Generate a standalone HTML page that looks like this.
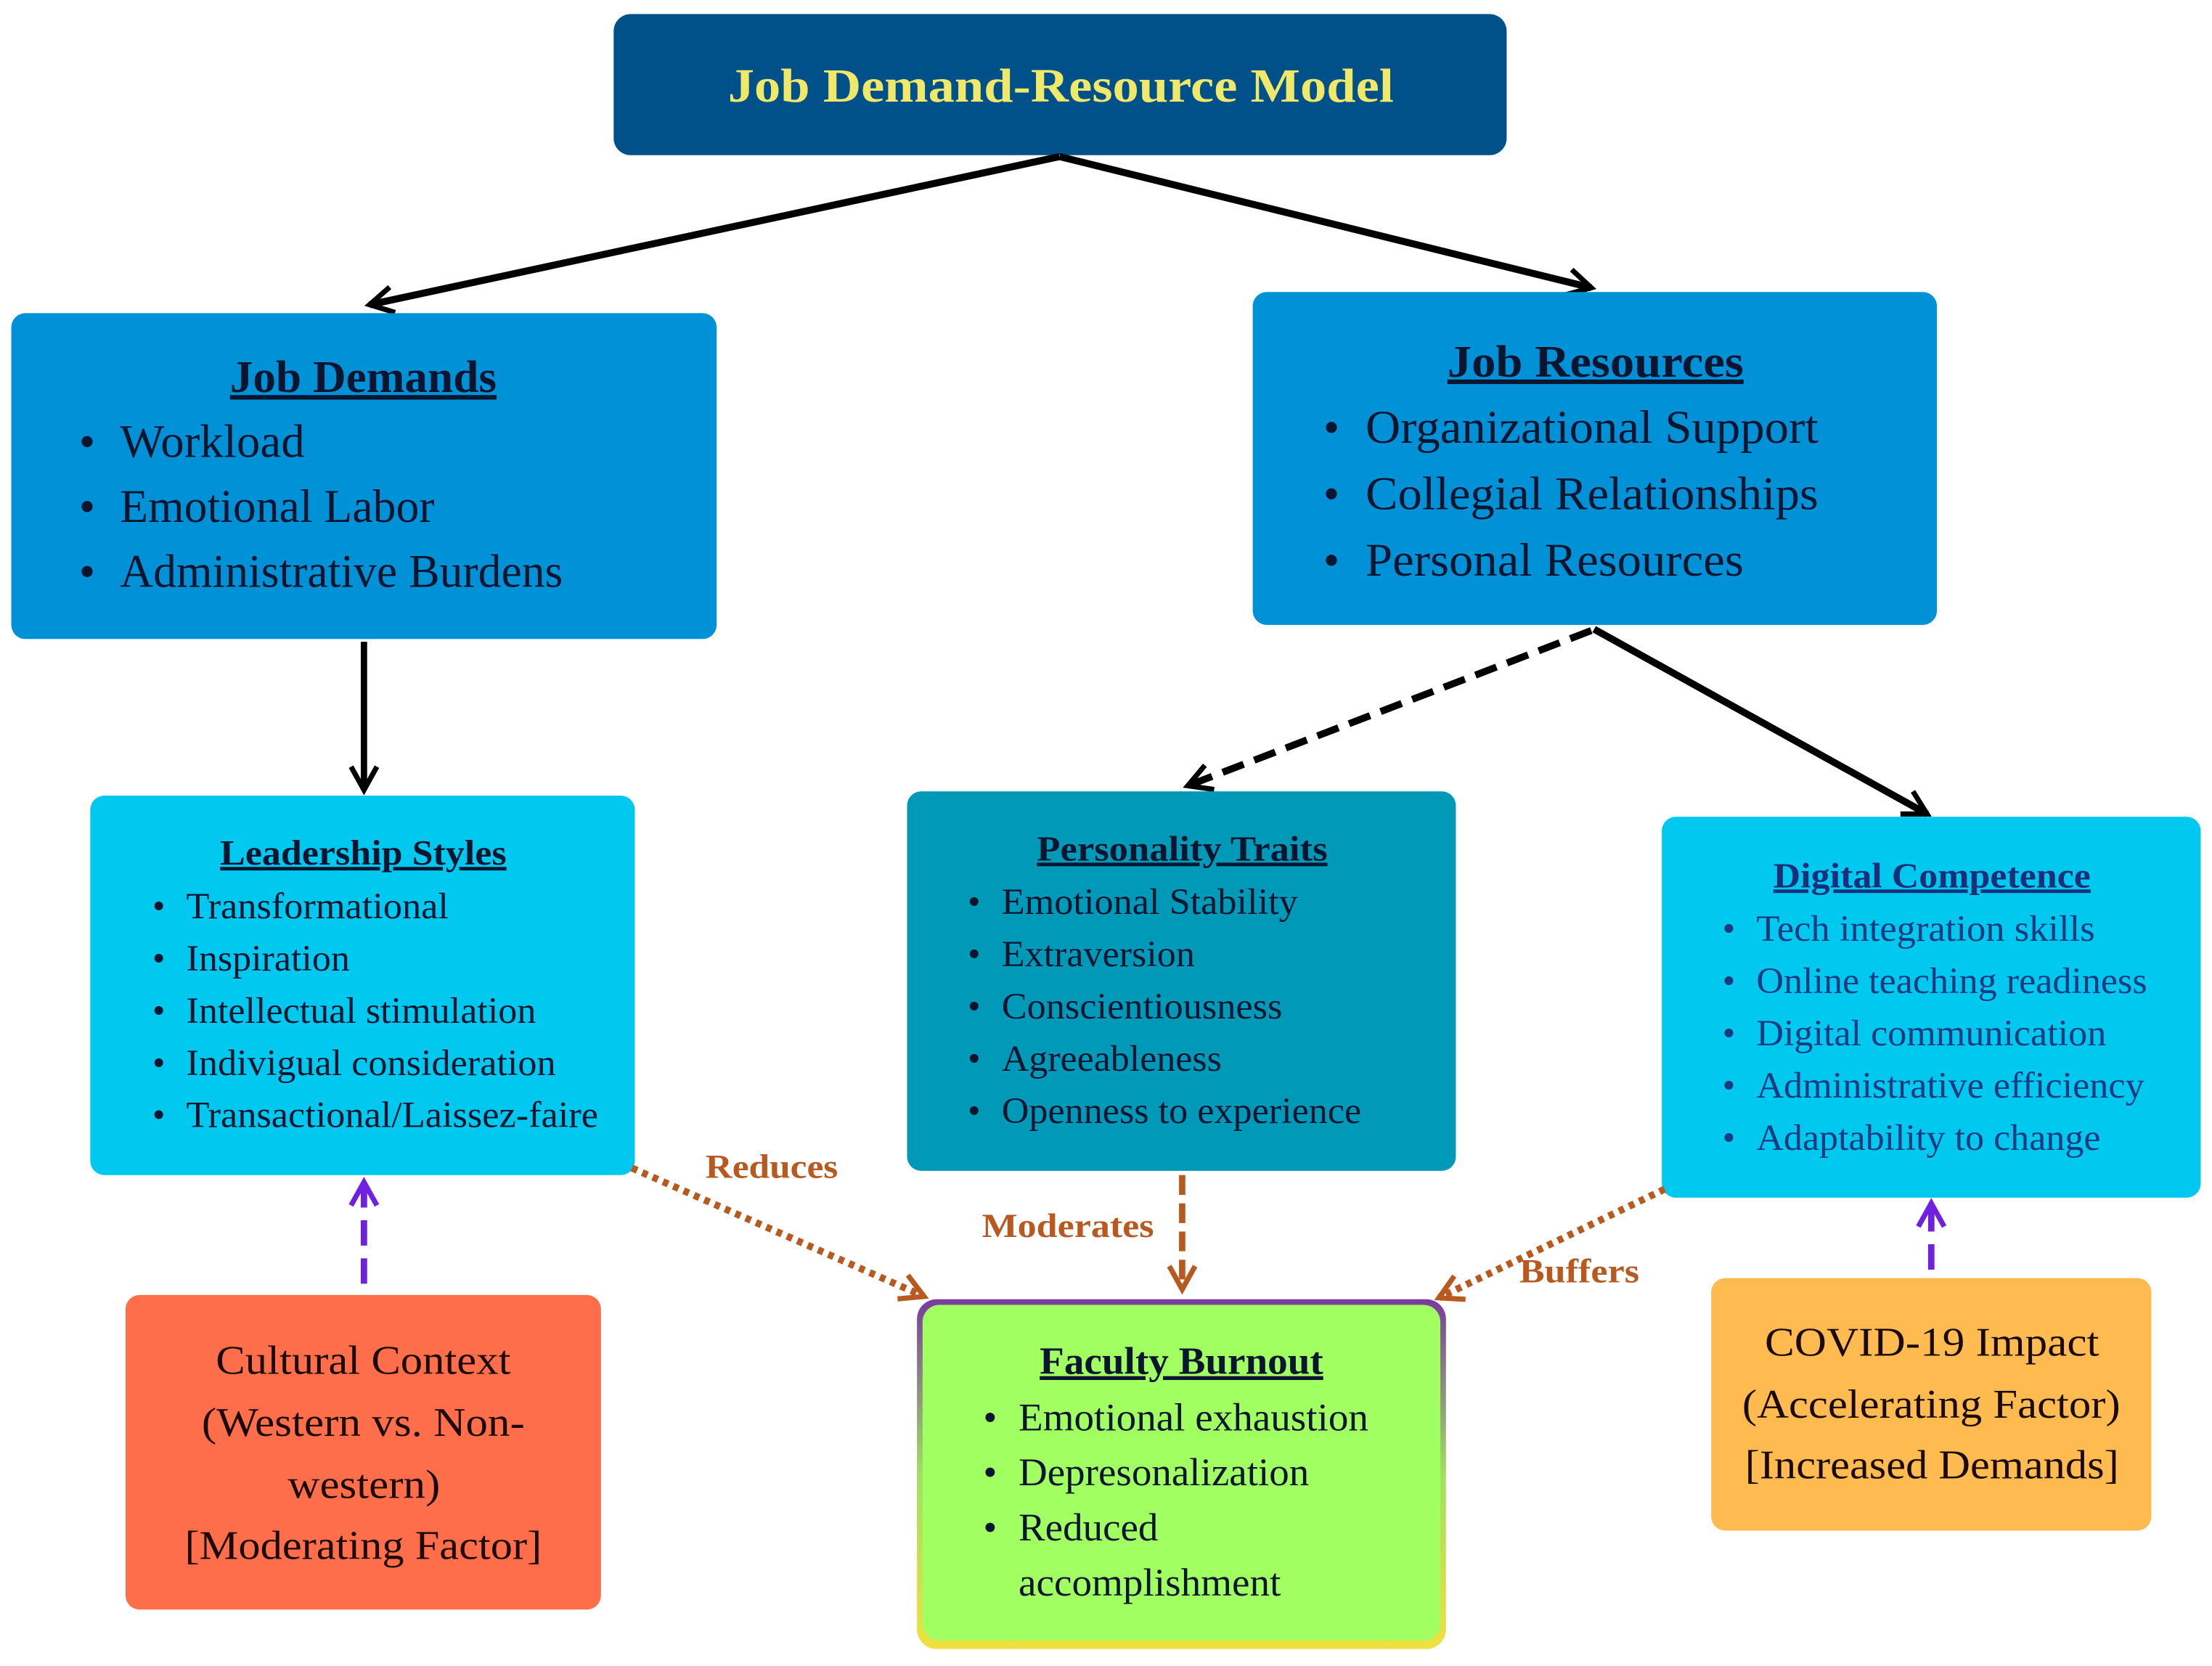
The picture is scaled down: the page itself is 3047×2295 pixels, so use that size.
<!DOCTYPE html>
<html><head><meta charset="utf-8"><style>
html,body{margin:0;padding:0;background:#fff;}
svg{display:block;}
text{font-family:"Liberation Serif",serif;}
</style></head><body>
<svg width="3047" height="2295" viewBox="0 0 1568 1181" preserveAspectRatio="none" xmlns="http://www.w3.org/2000/svg">
<defs>
<marker id="abig" viewBox="0 0 12 12" markerWidth="22" markerHeight="22" refX="10" refY="6" orient="auto" markerUnits="userSpaceOnUse"><path d="M1,1 L10,6 L1,11" fill="none" stroke="#000" stroke-width="2"/></marker>
<marker id="abr" viewBox="0 0 12 12" markerWidth="22" markerHeight="22" refX="10" refY="6" orient="auto" markerUnits="userSpaceOnUse"><path d="M1,1 L10,6 L1,11" fill="none" stroke="#b85a20" stroke-width="2"/></marker>
<marker id="apu" viewBox="0 0 12 12" markerWidth="22" markerHeight="22" refX="10" refY="6" orient="auto" markerUnits="userSpaceOnUse"><path d="M1,1 L10,6 L1,11" fill="none" stroke="#7020e0" stroke-width="2"/></marker>
<linearGradient id="gb" x1="0" y1="0" x2="0" y2="1"><stop offset="0" stop-color="#7a3aa0"/><stop offset="0.5" stop-color="#a0e060"/><stop offset="1" stop-color="#f0e040"/></linearGradient>
</defs>

<rect x="435" y="10" width="633" height="100" rx="12" fill="#00508a"/>
<text x="516" y="72" font-size="34" font-weight="bold" fill="#f0e868" textLength="472" lengthAdjust="spacingAndGlyphs">Job Demand-Resource Model</text>

<line x1="751" y1="111" x2="262" y2="216" stroke="#000" stroke-width="5" marker-end="url(#abig)"/>
<line x1="751" y1="111" x2="1128" y2="204" stroke="#000" stroke-width="5" marker-end="url(#abig)"/>

<rect x="8" y="222" width="500" height="231" rx="10" fill="#0091d6"/>
<text x="163" y="278" font-size="32" font-weight="bold" fill="#0a1530" text-decoration="underline" textLength="189" lengthAdjust="spacingAndGlyphs">Job Demands</text>
<g font-size="33" fill="#0a1530">
<text x="56" y="324">•</text><text x="85" y="324" textLength="131" lengthAdjust="spacingAndGlyphs">Workload</text>
<text x="56" y="370">•</text><text x="85" y="370" textLength="223" lengthAdjust="spacingAndGlyphs">Emotional Labor</text>
<text x="56" y="416">•</text><text x="85" y="416" textLength="314" lengthAdjust="spacingAndGlyphs">Administrative Burdens</text>
</g>

<rect x="888" y="207" width="485" height="236" rx="10" fill="#0091d6"/>
<text x="1026" y="267" font-size="32" font-weight="bold" fill="#0a1530" text-decoration="underline" textLength="210" lengthAdjust="spacingAndGlyphs">Job Resources</text>
<g font-size="33" fill="#0a1530">
<text x="938" y="314">•</text><text x="968" y="314" textLength="321" lengthAdjust="spacingAndGlyphs">Organizational Support</text>
<text x="938" y="361">•</text><text x="968" y="361" textLength="321" lengthAdjust="spacingAndGlyphs">Collegial Relationships</text>
<text x="938" y="408">•</text><text x="968" y="408" textLength="268" lengthAdjust="spacingAndGlyphs">Personal Resources</text>
</g>

<line x1="258" y1="455" x2="258" y2="560" stroke="#000" stroke-width="4.5" marker-end="url(#abig)"/>
<line x1="1128" y1="447" x2="842" y2="557" stroke="#000" stroke-width="5" stroke-dasharray="16,8" marker-end="url(#abig)"/>
<line x1="1130" y1="446" x2="1366" y2="577" stroke="#000" stroke-width="5" marker-end="url(#abig)"/>

<rect x="64" y="564" width="386" height="269" rx="10" fill="#00c8ee"/>
<text x="156" y="613" font-size="25" font-weight="bold" fill="#0a1530" text-decoration="underline" textLength="203" lengthAdjust="spacingAndGlyphs">Leadership Styles</text>
<g font-size="26" fill="#0a1530">
<text x="108" y="651">•</text><text x="132" y="651" textLength="186" lengthAdjust="spacingAndGlyphs">Transformational</text>
<text x="108" y="688">•</text><text x="132" y="688" textLength="116" lengthAdjust="spacingAndGlyphs">Inspiration</text>
<text x="108" y="725">•</text><text x="132" y="725" textLength="248" lengthAdjust="spacingAndGlyphs">Intellectual stimulation</text>
<text x="108" y="762">•</text><text x="132" y="762" textLength="262" lengthAdjust="spacingAndGlyphs">Indivigual consideration</text>
<text x="108" y="799">•</text><text x="132" y="799" textLength="292" lengthAdjust="spacingAndGlyphs">Transactional/Laissez-faire</text>
</g>

<rect x="643" y="561" width="389" height="269" rx="10" fill="#0099b8"/>
<text x="735" y="610" font-size="25" font-weight="bold" fill="#0a1530" text-decoration="underline" textLength="206" lengthAdjust="spacingAndGlyphs">Personality Traits</text>
<g font-size="26" fill="#0a1530">
<text x="686" y="648">•</text><text x="710" y="648" textLength="210" lengthAdjust="spacingAndGlyphs">Emotional Stability</text>
<text x="686" y="685">•</text><text x="710" y="685" textLength="137" lengthAdjust="spacingAndGlyphs">Extraversion</text>
<text x="686" y="722">•</text><text x="710" y="722" textLength="199" lengthAdjust="spacingAndGlyphs">Conscientiousness</text>
<text x="686" y="759">•</text><text x="710" y="759" textLength="156" lengthAdjust="spacingAndGlyphs">Agreeableness</text>
<text x="686" y="796">•</text><text x="710" y="796" textLength="255" lengthAdjust="spacingAndGlyphs">Openness to experience</text>
</g>

<rect x="1178" y="579" width="382" height="270" rx="10" fill="#00c8ee"/>
<text x="1257" y="629" font-size="25" font-weight="bold" fill="#1a2f7a" text-decoration="underline" textLength="225" lengthAdjust="spacingAndGlyphs">Digital Competence</text>
<g font-size="26" fill="#1a3a80">
<text x="1221" y="667">•</text><text x="1245" y="667" textLength="240" lengthAdjust="spacingAndGlyphs">Tech integration skills</text>
<text x="1221" y="704">•</text><text x="1245" y="704" textLength="277" lengthAdjust="spacingAndGlyphs">Online teaching readiness</text>
<text x="1221" y="741">•</text><text x="1245" y="741" textLength="248" lengthAdjust="spacingAndGlyphs">Digital communication</text>
<text x="1221" y="778">•</text><text x="1245" y="778" textLength="275" lengthAdjust="spacingAndGlyphs">Administrative efficiency</text>
<text x="1221" y="815">•</text><text x="1245" y="815" textLength="244" lengthAdjust="spacingAndGlyphs">Adaptability to change</text>
</g>

<rect x="89" y="918" width="337" height="223" rx="10" fill="#ff6e4a"/>
<g font-size="29" fill="#1a0a05">
<text x="153" y="974" textLength="209" lengthAdjust="spacingAndGlyphs">Cultural Context</text>
<text x="143" y="1018" textLength="229" lengthAdjust="spacingAndGlyphs">(Western vs. Non-</text>
<text x="204" y="1062" textLength="108" lengthAdjust="spacingAndGlyphs">western)</text>
<text x="131" y="1105" textLength="253" lengthAdjust="spacingAndGlyphs">[Moderating Factor]</text>
</g>

<rect x="650" y="921" width="375" height="248" rx="14" fill="url(#gb)"/>
<rect x="654" y="925" width="367" height="238" rx="12" fill="#a2ff62"/>
<text x="737" y="974" font-size="27" font-weight="bold" fill="#0a1530" text-decoration="underline" textLength="201" lengthAdjust="spacingAndGlyphs">Faculty Burnout</text>
<g font-size="28" fill="#0a1530">
<text x="697" y="1014">•</text><text x="722" y="1014" textLength="248" lengthAdjust="spacingAndGlyphs">Emotional exhaustion</text>
<text x="697" y="1053">•</text><text x="722" y="1053" textLength="206" lengthAdjust="spacingAndGlyphs">Depresonalization</text>
<text x="697" y="1092">•</text><text x="722" y="1092" textLength="99" lengthAdjust="spacingAndGlyphs">Reduced</text>
<text x="722" y="1131" textLength="186" lengthAdjust="spacingAndGlyphs">accomplishment</text>
</g>

<rect x="1213" y="906" width="312" height="179" rx="10" fill="#ffbb50"/>
<g font-size="29" fill="#1a0a05">
<text x="1251" y="961" textLength="237" lengthAdjust="spacingAndGlyphs">COVID-19 Impact</text>
<text x="1235" y="1005" textLength="268" lengthAdjust="spacingAndGlyphs">(Accelerating Factor)</text>
<text x="1237" y="1048" textLength="265" lengthAdjust="spacingAndGlyphs">[Increased Demands]</text>
</g>

<line x1="448" y1="828" x2="655" y2="919" stroke="#b85a20" stroke-width="5" stroke-dasharray="4,4" marker-end="url(#abr)"/>
<line x1="838" y1="833" x2="838" y2="914" stroke="#b85a20" stroke-width="4.5" stroke-dasharray="14,6" marker-end="url(#abr)"/>
<line x1="1180" y1="843" x2="1020" y2="920" stroke="#b85a20" stroke-width="5" stroke-dasharray="4,4" marker-end="url(#abr)"/>
<g font-size="24" font-weight="bold" fill="#b85a20">
<text x="500" y="835" textLength="94" lengthAdjust="spacingAndGlyphs">Reduces</text>
<text x="696" y="877" textLength="122" lengthAdjust="spacingAndGlyphs">Moderates</text>
<text x="1077" y="909" textLength="85" lengthAdjust="spacingAndGlyphs">Buffers</text>
</g>

<line x1="258" y1="910" x2="258" y2="838" stroke="#7020e0" stroke-width="4.5" stroke-dasharray="18,9" marker-end="url(#apu)"/>
<line x1="1369" y1="900" x2="1369" y2="853" stroke="#7020e0" stroke-width="4.5" stroke-dasharray="18,9" marker-end="url(#apu)"/>
</svg>
</body></html>
